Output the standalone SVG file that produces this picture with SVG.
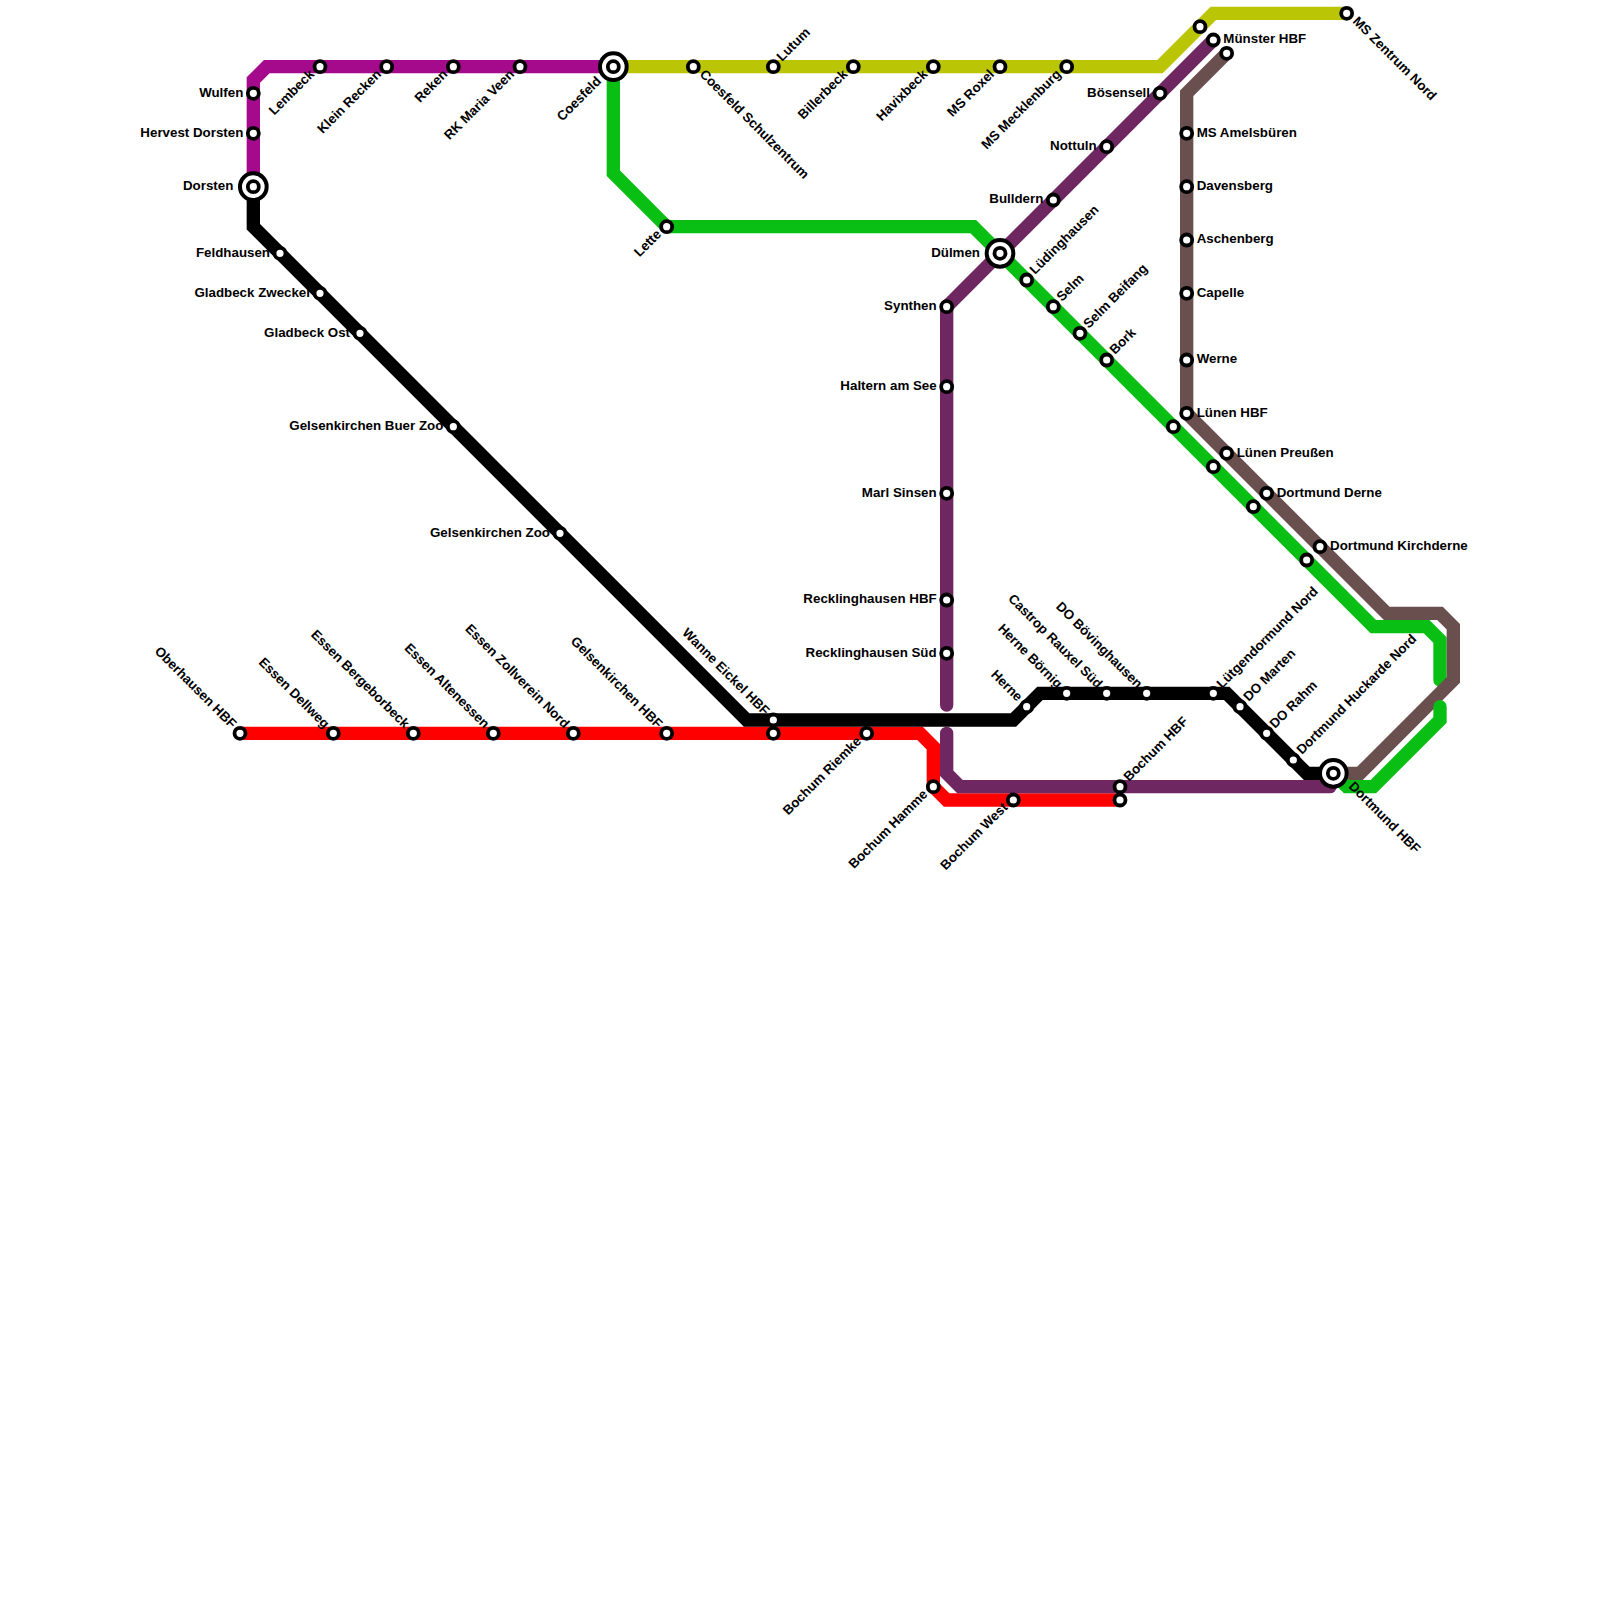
<svg xmlns="http://www.w3.org/2000/svg" width="1600" height="1600" viewBox="0 0 1600 1600">
<style>
text{font-family:"Liberation Sans",Arial,sans-serif;font-size:13.33px;font-weight:bold;fill:#000}
.e{text-anchor:end}
.l{fill:none;stroke-width:13.33;stroke-linecap:round;stroke-linejoin:miter}
.s{fill:#fff;stroke:#000;stroke-width:3.8}
.i{fill:#fff;stroke:#000;stroke-width:4}
</style>
<rect width="1600" height="1600" fill="#fff"/>
<defs>
<circle id="st" class="s" r="5.5"/>
<g id="ic"><circle class="i" r="13.33"/><circle class="s" r="5.5"/></g>
</defs>
<g id="connectors">
<path class="l" stroke="#a50a8c" d="M253.33 186.67V80L266.67 66.67H613.33"/>
<path class="l" stroke="#b9c505" d="M613.33 66.67H1160L1213.33 13.33H1346.67"/>
<path class="l" stroke="#0abf14" d="M613.33 66.67V173.33L666.67 226.67H973.33L1373.33 626.67H1426.67L1440 640V680"/>
<path class="l" stroke="#6a4f4f" d="M1226.67 53.33L1186.67 93.33V413.33L1386.67 613.33H1440L1453.33 626.67V680L1360 773.33H1333.33"/>
<path class="l" stroke="#0abf14" d="M1440 706.67V720L1373.33 786.67H1346.67L1333.33 773.33"/>
<path class="l" stroke="#ff0000" d="M240 733.33H920L933.33 746.67V786.67L946.67 800H1120"/>
<path class="l" stroke="#6e2760" d="M1213.33 40L946.67 306.67V705"/>
<path class="l" stroke="#6e2760" d="M946.67 733.33V773.33L960 786.67H1330"/>
<path class="l" stroke="#000000" d="M253.33 186.67V226.67L746.67 720H1013.33L1040 693.33H1226.67L1306.67 773.33H1333.33"/>
</g>
<g id="wulfen"><use href="#st" x="253.33" y="93.33"/><text class="e" x="243.33" y="97">Wulfen</text></g>
<g id="hervest-dorsten"><use href="#st" x="253.33" y="133.33"/><text class="e" x="243.33" y="137">Hervest Dorsten</text></g>
<g id="dorsten"><use href="#ic" x="253.33" y="186.67"/><text class="e" x="233.33" y="190">Dorsten</text></g>
<g id="lembeck"><use href="#st" x="320" y="66.67"/><text class="e" transform="rotate(-45 315 75)" x="315" y="75">Lembeck</text></g>
<g id="klein-recken"><use href="#st" x="386.67" y="66.67"/><text class="e" transform="rotate(-45 382 75)" x="382" y="75">Klein Recken</text></g>
<g id="reken"><use href="#st" x="453.33" y="66.67"/><text class="e" transform="rotate(-45 448.33 75)" x="448.33" y="75">Reken</text></g>
<g id="rk-maria-veen"><use href="#st" x="520" y="66.67"/><text class="e" transform="rotate(-45 515 75)" x="515" y="75">RK Maria Veen</text></g>
<g id="coesfeld"><use href="#ic" x="613.33" y="66.67"/><text class="e" transform="rotate(-45 602 82)" x="602" y="82">Coesfeld</text></g>
<g id="coesfeld-schulzentrum"><use href="#st" x="693.33" y="66.67"/><text transform="rotate(45 699 75)" x="699" y="75">Coesfeld Schulzentrum</text></g>
<g id="lutum"><use href="#st" x="773.33" y="66.67"/><text transform="rotate(-45 782 62)" x="782" y="62">Lutum</text></g>
<g id="billerbeck"><use href="#st" x="853.33" y="66.67"/><text class="e" transform="rotate(-45 848.33 75)" x="848.33" y="75">Billerbeck</text></g>
<g id="havixbeck"><use href="#st" x="933.33" y="66.67"/><text class="e" transform="rotate(-45 928.33 75)" x="928.33" y="75">Havixbeck</text></g>
<g id="ms-roxel"><use href="#st" x="1000" y="66.67"/><text class="e" transform="rotate(-45 995 75)" x="995" y="75">MS Roxel</text></g>
<g id="ms-mecklenburg"><use href="#st" x="1066.67" y="66.67"/><text class="e" transform="rotate(-45 1061.67 75)" x="1061.67" y="75">MS Mecklenburg</text></g>
<g id="yellow-stop"><use href="#st" x="1200" y="26.67"/></g>
<g id="ms-zentrum-nord"><use href="#st" x="1346.67" y="13.33"/><text transform="rotate(45 1352 22)" x="1352" y="22">MS Zentrum Nord</text></g>
<g id="lette"><use href="#st" x="666.67" y="226.67"/><text class="e" transform="rotate(-45 662 235)" x="662" y="235">Lette</text></g>
<g id="feldhausen"><use href="#st" x="280" y="253.33"/><text class="e" x="270" y="257">Feldhausen</text></g>
<g id="gladbeck-zweckel"><use href="#st" x="320" y="293.33"/><text class="e" x="310" y="297">Gladbeck Zweckel</text></g>
<g id="gladbeck-ost"><use href="#st" x="360" y="333.33"/><text class="e" x="350" y="337">Gladbeck Ost</text></g>
<g id="gelsenkirchen-buer-zoo"><use href="#st" x="453.33" y="426.67"/><text class="e" x="443.33" y="430">Gelsenkirchen Buer Zoo</text></g>
<g id="gelsenkirchen-zoo"><use href="#st" x="560" y="533.33"/><text class="e" x="550" y="537">Gelsenkirchen Zoo</text></g>
<g id="oberhausen-hbf"><use href="#st" x="240" y="733.33"/><text class="e" transform="rotate(45 231 729)" x="231" y="729">Oberhausen HBF</text></g>
<g id="essen-dellweg"><use href="#st" x="333.33" y="733.33"/><text class="e" transform="rotate(45 324 729)" x="324" y="729">Essen Dellweg</text></g>
<g id="essen-bergeborbeck"><use href="#st" x="413.33" y="733.33"/><text class="e" transform="rotate(45 404 729)" x="404" y="729">Essen Bergeborbeck</text></g>
<g id="essen-altenessen"><use href="#st" x="493.33" y="733.33"/><text class="e" transform="rotate(45 484 729)" x="484" y="729">Essen Altenessen</text></g>
<g id="essen-zollverein-nord"><use href="#st" x="573.33" y="733.33"/><text class="e" transform="rotate(45 564 729)" x="564" y="729">Essen Zollverein Nord</text></g>
<g id="gelsenkirchen-hbf"><use href="#st" x="666.67" y="733.33"/><text class="e" transform="rotate(45 657 729)" x="657" y="729">Gelsenkirchen HBF</text></g>
<g id="wanne-eickel-hbf"><use href="#st" x="773.33" y="720"/><use href="#st" x="773.33" y="733.33"/><text class="e" transform="rotate(45 764 716)" x="764" y="716">Wanne Eickel HBF</text></g>
<g id="bochum-riemke"><use href="#st" x="866.67" y="733.33"/><text class="e" transform="rotate(-45 862 742)" x="862" y="742">Bochum Riemke</text></g>
<g id="bochum-hamme"><use href="#st" x="933.33" y="786.67"/><text class="e" transform="rotate(-45 928.33 795)" x="928.33" y="795">Bochum Hamme</text></g>
<g id="bochum-west"><use href="#st" x="1013.33" y="800"/><text class="e" transform="rotate(-45 1008.33 808)" x="1008.33" y="808">Bochum West</text></g>
<g id="bochum-hbf"><use href="#st" x="1120" y="786.67"/><use href="#st" x="1120" y="800"/><text transform="rotate(-45 1129 782)" x="1129" y="782">Bochum HBF</text></g>
<g id="synthen"><use href="#st" x="946.67" y="306.67"/><text class="e" x="936.67" y="310">Synthen</text></g>
<g id="haltern-am-see"><use href="#st" x="946.67" y="386.67"/><text class="e" x="936.67" y="390">Haltern am See</text></g>
<g id="marl-sinsen"><use href="#st" x="946.67" y="493.33"/><text class="e" x="936.67" y="497">Marl Sinsen</text></g>
<g id="recklinghausen-hbf"><use href="#st" x="946.67" y="600"/><text class="e" x="936.67" y="603">Recklinghausen HBF</text></g>
<g id="recklinghausen-sued"><use href="#st" x="946.67" y="653.33"/><text class="e" x="936.67" y="657">Recklinghausen Süd</text></g>
<g id="duelmen"><use href="#ic" x="1000" y="253.33"/><text class="e" x="980" y="257">Dülmen</text></g>
<g id="bulldern"><use href="#st" x="1053.33" y="200"/><text class="e" x="1043.33" y="203">Bulldern</text></g>
<g id="nottuln"><use href="#st" x="1106.67" y="146.67"/><text class="e" x="1096.67" y="150">Nottuln</text></g>
<g id="boesensell"><use href="#st" x="1160" y="93.33"/><text class="e" x="1150" y="97">Bösensell</text></g>
<g id="muenster-hbf"><use href="#st" x="1213.33" y="40"/><text x="1223.33" y="43">Münster HBF</text></g>
<g id="brown-stop"><use href="#st" x="1226.67" y="53.33"/></g>
<g id="ms-amelsbueren"><use href="#st" x="1186.67" y="133.33"/><text x="1196.67" y="137">MS Amelsbüren</text></g>
<g id="davensberg"><use href="#st" x="1186.67" y="186.67"/><text x="1196.67" y="190">Davensberg</text></g>
<g id="aschenberg"><use href="#st" x="1186.67" y="240"/><text x="1196.67" y="243">Aschenberg</text></g>
<g id="capelle"><use href="#st" x="1186.67" y="293.33"/><text x="1196.67" y="297">Capelle</text></g>
<g id="werne"><use href="#st" x="1186.67" y="360"/><text x="1196.67" y="363">Werne</text></g>
<g id="luenen-hbf"><use href="#st" x="1186.67" y="413.33"/><text x="1196.67" y="417">Lünen HBF</text></g>
<g id="luenen-preussen"><use href="#st" x="1226.67" y="453.33"/><text x="1236.67" y="457">Lünen Preußen</text></g>
<g id="dortmund-derne"><use href="#st" x="1266.67" y="493.33"/><text x="1276.67" y="497">Dortmund Derne</text></g>
<g id="dortmund-kirchderne"><use href="#st" x="1320" y="546.67"/><text x="1330" y="550">Dortmund Kirchderne</text></g>
<g id="luedinghausen"><use href="#st" x="1026.67" y="280"/><text transform="rotate(-45 1035 275)" x="1035" y="275">Lüdinghausen</text></g>
<g id="selm"><use href="#st" x="1053.33" y="306.67"/><text transform="rotate(-45 1062 302)" x="1062" y="302">Selm</text></g>
<g id="selm-beifang"><use href="#st" x="1080" y="333.33"/><text transform="rotate(-45 1088.67 329)" x="1088.67" y="329">Selm Beifang</text></g>
<g id="bork"><use href="#st" x="1106.67" y="360"/><text transform="rotate(-45 1115 355)" x="1115" y="355">Bork</text></g>
<g id="green-stop-1"><use href="#st" x="1173.33" y="426.67"/></g>
<g id="green-stop-2"><use href="#st" x="1213.33" y="466.67"/></g>
<g id="green-stop-3"><use href="#st" x="1253.33" y="506.67"/></g>
<g id="green-stop-4"><use href="#st" x="1306.67" y="560"/></g>
<g id="herne"><use href="#st" x="1026.67" y="706.67"/><text class="e" transform="rotate(45 1017 702)" x="1017" y="702">Herne</text></g>
<g id="herne-boernig"><use href="#st" x="1066.67" y="693.33"/><text class="e" transform="rotate(45 1057 689)" x="1057" y="689">Herne Börnig</text></g>
<g id="castrop-rauxel-sued"><use href="#st" x="1106.67" y="693.33"/><text class="e" transform="rotate(45 1097 689)" x="1097" y="689">Castrop Rauxel Süd</text></g>
<g id="do-boevinghausen"><use href="#st" x="1146.67" y="693.33"/><text class="e" transform="rotate(45 1137 689)" x="1137" y="689">DO Bövinghausen</text></g>
<g id="luetgendormund-nord"><use href="#st" x="1213.33" y="693.33"/><text transform="rotate(-45 1222 689)" x="1222" y="689">Lütgendormund Nord</text></g>
<g id="do-marten"><use href="#st" x="1240" y="706.67"/><text transform="rotate(-45 1248.67 702)" x="1248.67" y="702">DO Marten</text></g>
<g id="do-rahm"><use href="#st" x="1266.67" y="733.33"/><text transform="rotate(-45 1275 729)" x="1275" y="729">DO Rahm</text></g>
<g id="dortmund-huckarde-nord"><use href="#st" x="1293.33" y="760"/><text transform="rotate(-45 1302 755)" x="1302" y="755">Dortmund Huckarde Nord</text></g>
<g id="dortmund-hbf"><use href="#ic" x="1333.33" y="773.33"/><text transform="rotate(45 1348 787)" x="1348" y="787">Dortmund HBF</text></g>
</svg>
